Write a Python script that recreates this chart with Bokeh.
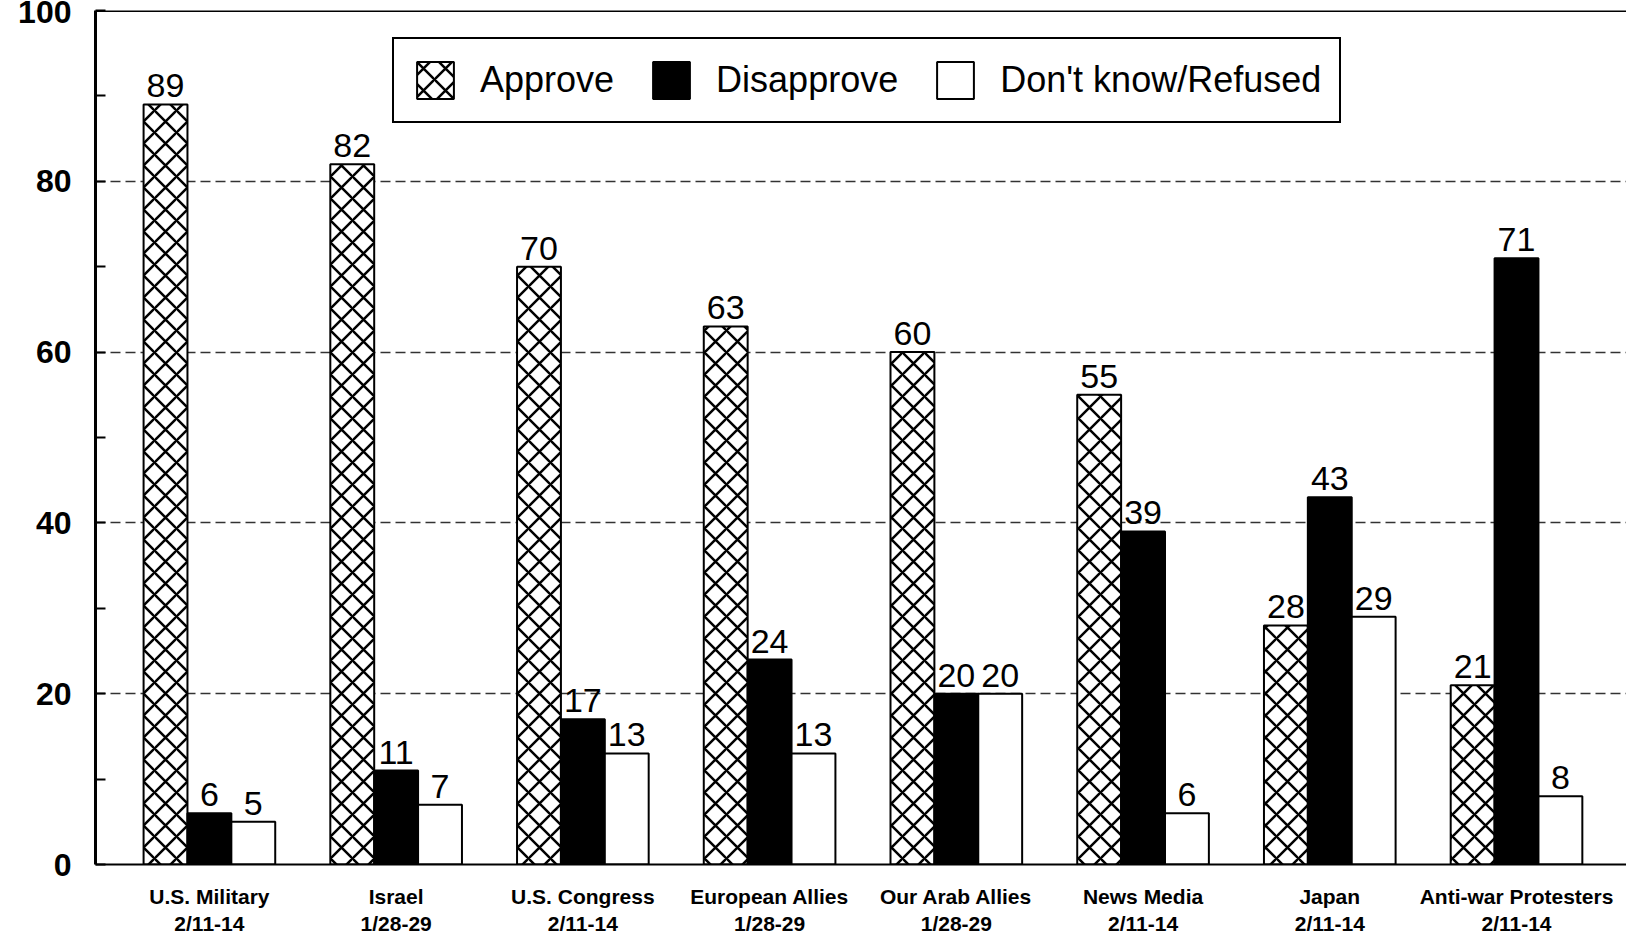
from bokeh.plotting import figure
from bokeh.models import ColumnDataSource, FixedTicker, Legend, LegendItem, Span
from bokeh.transform import dodge
from bokeh.core.properties import value
from bokeh.embed import file_html
from bokeh.resources import INLINE

categories = ["U.S. Military\n2/11-14", "Israel\n1/28-29", "U.S. Congress\n2/11-14",
              "European Allies\n1/28-29", "Our Arab Allies\n1/28-29", "News Media\n2/11-14",
              "Japan\n2/11-14", "Anti-war Protesters\n2/11-14"]
approve = [89, 82, 70, 63, 60, 55, 28, 21]
disapprove = [6, 11, 17, 24, 20, 39, 43, 71]
dont_know = [5, 7, 13, 13, 20, 6, 29, 8]
series_names = ["Approve", "Disapprove", "Don't know/Refused"]
y_ticks = [0, 20, 40, 60, 80, 100]
y_minor = [10, 30, 50, 70, 90]

FONT = "Liberation Sans"

idx = list(range(len(categories)))
src = ColumnDataSource(dict(
    x=idx,
    a=approve, d=disapprove, k=dont_know,
    at=[str(v) for v in approve],
    dt=[str(v) for v in disapprove],
    kt=[str(v) for v in dont_know],
))

p = figure(x_range=(-0.61, 7.589), y_range=(0, 100), width=1626, height=938,
           output_backend="svg", toolbar_location=None,
           min_border_left=95, min_border_right=0, min_border_top=10, min_border_bottom=70)
p.outline_line_color = None
p.background_fill_color = "white"
p.border_fill_color = "white"

W = 0.235
off = 0.235

r_a = p.vbar(x=dodge("x", -off), top="a", width=W, source=src,
             fill_color="white", line_color="black", line_width=2,
             hatch_pattern="diagonal_cross", hatch_color="black", hatch_weight=2.5, hatch_scale=22)
r_d = p.vbar(x=dodge("x", 0), top="d", width=W, source=src,
             fill_color="black", line_color="black", line_width=2)
r_k = p.vbar(x=dodge("x", off), top="k", width=W, source=src,
             fill_color="white", line_color="black", line_width=2)

for col, txt, o in (("a", "at", -off), ("d", "dt", 0), ("k", "kt", off)):
    p.text(x=dodge("x", o), y=col, text=txt, source=src,
           text_align="center", text_baseline="bottom", y_offset=-7,
           text_font=value(FONT), text_font_size="34px", text_color="black")

p.add_layout(Span(location=100, dimension="width", line_color="black", line_width=3))

legend = Legend(items=[LegendItem(label=series_names[0], renderers=[r_a]),
                       LegendItem(label=series_names[1], renderers=[r_d]),
                       LegendItem(label=series_names[2], renderers=[r_k])],
                orientation="horizontal", location=(297, 741))
legend.label_text_font = FONT
legend.label_text_font_size = "36px"
legend.label_text_color = "black"
legend.glyph_width = 46
legend.glyph_height = 46
legend.label_standoff = 22
legend.spacing = 34
legend.padding = 18
legend.margin = 0
legend.border_line_color = "black"
legend.border_line_alpha = 1
legend.border_line_width = 2
legend.background_fill_alpha = 1
p.add_layout(legend)

p.xgrid.grid_line_color = None
p.ygrid.ticker = FixedTicker(ticks=[20, 40, 60, 80])
p.ygrid.grid_line_color = "black"
p.ygrid.grid_line_alpha = 0.8
p.ygrid.grid_line_width = 1.5
p.ygrid.grid_line_dash = "10 5"

p.yaxis.ticker = FixedTicker(ticks=y_ticks, minor_ticks=y_minor)
p.yaxis.axis_line_width = 3
p.yaxis.axis_line_color = "black"
p.yaxis.major_tick_in = 10
p.yaxis.major_tick_out = 0
p.yaxis.minor_tick_in = 10
p.yaxis.minor_tick_out = 0
p.yaxis.major_tick_line_width = 2
p.yaxis.minor_tick_line_width = 2
p.yaxis.major_label_text_font = FONT
p.yaxis.major_label_text_font_style = "bold"
p.yaxis.major_label_text_font_size = "32px"
p.yaxis.major_label_text_color = "black"
p.yaxis.major_label_standoff = 24

p.xaxis.ticker = FixedTicker(ticks=idx)
p.xaxis.major_label_overrides = {i: c for i, c in zip(idx, categories)}
p.xaxis.axis_line_width = 2
p.xaxis.axis_line_color = "black"
p.xaxis.major_tick_in = 0
p.xaxis.major_tick_out = 0
p.xaxis.minor_tick_in = 0
p.xaxis.minor_tick_out = 0
p.xaxis.major_label_text_font = FONT
p.xaxis.major_label_text_font_style = "bold"
p.xaxis.major_label_text_font_size = "21px"
p.xaxis.major_label_text_color = "black"
p.xaxis.major_label_standoff = 20

open("out.html", "w").write(file_html(p, INLINE))
